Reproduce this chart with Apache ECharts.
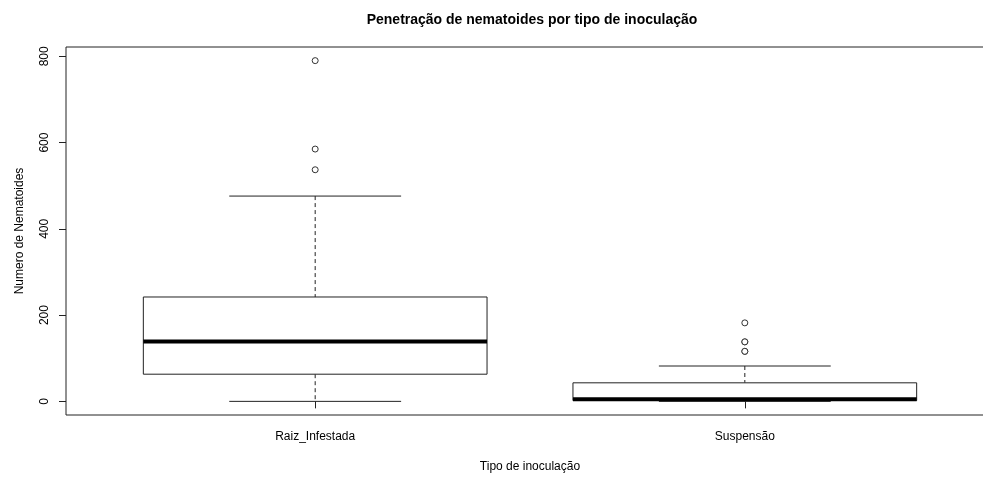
<!DOCTYPE html>
<html>
<head>
<meta charset="utf-8">
<script src="https://cdn.jsdelivr.net/npm/echarts@6/dist/echarts.min.js"></script>
<style>
  html, body { margin: 0; padding: 0; background: #fff; }
  #chart { width: 983px; height: 479px; }
</style>
</head>
<body>
<div id="chart"></div>
<script>
// Groups and five-number summaries (min, Q1, median, Q3, max of whiskers)
const categories = ['Raiz_Infestada', 'Suspensão'];
const whiskerLow = [0, 0];
const quart1 = [63, 2];
const medians = [139, 5];
const quart3 = [242, 43];
const whiskerHigh = [476, 82];
// Points beyond the whiskers, per group
const outliers = [
  [790, 585, 537],
  [182, 138, 138, 116, 116]
];
const yTicks = [0, 200, 400, 600, 800];

const positions = categories.map((_, i) => i + 1);
const boxData = categories.map((_, i) => [
  positions[i], whiskerLow[i], quart1[i], medians[i], quart3[i], whiskerHigh[i]
]);
const outlierData = [];
outliers.forEach((vals, i) => vals.forEach(v => outlierData.push([positions[i], v])));

const BOX_W = 0.8;   // box width in x units
const CAP_W = 0.4;   // whisker cap width in x units
const FONT = 'Liberation Sans, Arial, Helvetica, sans-serif';

function renderBox(params, api) {
  const x = api.value(0);
  const lo = api.coord([x, api.value(1)]);
  const q1 = api.coord([x, api.value(2)]);
  const md = api.coord([x, api.value(3)]);
  const q3 = api.coord([x, api.value(4)]);
  const hi = api.coord([x, api.value(5)]);
  const left = api.coord([x - BOX_W / 2, 0])[0];
  const right = api.coord([x + BOX_W / 2, 0])[0];
  const capL = api.coord([x - CAP_W / 2, 0])[0];
  const capR = api.coord([x + CAP_W / 2, 0])[0];
  const cx = lo[0];
  const thin = { stroke: '#222', lineWidth: 1, fill: null };
  const dash = { stroke: '#222', lineWidth: 1, lineDash: [4, 3] };
  return {
    type: 'group',
    children: [
      { type: 'line', shape: { x1: cx, y1: hi[1], x2: cx, y2: q3[1] }, style: dash },
      { type: 'line', shape: { x1: cx, y1: q1[1], x2: cx, y2: lo[1] }, style: dash },
      { type: 'line', shape: { x1: capL, y1: hi[1], x2: capR, y2: hi[1] }, style: thin },
      { type: 'line', shape: { x1: capL, y1: lo[1], x2: capR, y2: lo[1] }, style: thin },
      { type: 'rect', shape: { x: left, y: q3[1], width: right - left, height: q1[1] - q3[1] },
        style: { stroke: '#222', lineWidth: 1, fill: '#fff' } },
      { type: 'line', shape: { x1: left, y1: md[1], x2: right, y2: md[1] },
        style: { stroke: '#000', lineWidth: 4 } }
    ]
  };
}

// Outliers drawn as thin open circles
function renderOutlier(params, api) {
  const p = api.coord([api.value(0), api.value(1)]);
  return {
    type: 'circle',
    shape: { cx: p[0], cy: p[1], r: 3 },
    style: { stroke: '#333', lineWidth: 1, fill: '#fff' }
  };
}

const chart = echarts.init(document.getElementById('chart'), null, { renderer: 'canvas' });
chart.setOption({
  animation: false,
  backgroundColor: '#fff',
  textStyle: { fontFamily: FONT },
  graphic: [{
    type: 'text',
    x: 532, y: 20,
    style: {
      text: 'Penetração de nematoides por tipo de inoculação',
      font: 'bold 14px ' + FONT,
      fill: '#000',
      align: 'center',
      verticalAlign: 'middle'
    }
  }],
  grid: {
    left: 66, top: 47, width: 928, height: 368,
    outerBoundsMode: 'none',
    containLabel: false,
    show: true, borderColor: '#222', borderWidth: 1, backgroundColor: 'transparent'
  },
  xAxis: {
    type: 'value',
    min: 0.42, max: 2.58,
    splitLine: { show: false },
    axisLine: { show: false },
    axisTick: { show: true, length: 7, customValues: positions, lineStyle: { color: '#222' } },
    axisLabel: {
      customValues: positions,
      formatter: v => categories[Math.round(v) - 1] || '',
      color: '#000', fontSize: 12, fontFamily: FONT, margin: 16
    },
    name: 'Tipo de inoculação',
    nameLocation: 'middle',
    nameGap: 46,
    nameTextStyle: { color: '#000', fontSize: 12, fontFamily: FONT }
  },
  yAxis: {
    type: 'value',
    min: -31.6, max: 821.6,
    splitLine: { show: false },
    axisLine: { show: false },
    axisTick: { show: true, length: 7, customValues: yTicks, lineStyle: { color: '#222' } },
    axisLabel: {
      customValues: yTicks,
      rotate: 90,
      color: '#000', fontSize: 12, fontFamily: FONT, margin: 15
    },
    name: 'Numero de Nematoides',
    nameLocation: 'middle',
    nameRotate: 90,
    nameGap: 40,
    nameTextStyle: { color: '#000', fontSize: 12, fontFamily: FONT }
  },
  series: [
    {
      type: 'custom',
      renderItem: renderBox,
      data: boxData,
      encode: { x: 0, y: [1, 2, 3, 4, 5] },
      clip: false,
      silent: true
    },
    {
      type: 'custom',
      renderItem: renderOutlier,
      data: outlierData,
      encode: { x: 0, y: 1 },
      z: 5,
      silent: true
    }
  ]
});
</script>
</body>
</html>
